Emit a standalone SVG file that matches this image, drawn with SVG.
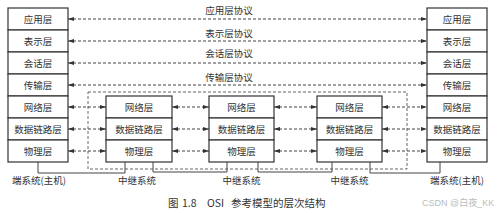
<svg xmlns="http://www.w3.org/2000/svg" width="498" height="213" viewBox="0 0 498 213">
<style>
.box{fill:#fff;stroke:#333;stroke-width:1.2}
.t{font-family:"Noto Sans CJK SC","Noto Sans",sans-serif;font-size:9.5px;fill:#333;text-anchor:middle}
.proto{stroke:#444;stroke-width:1;stroke-dasharray:3,2;fill:none}
.frame{stroke:#555;stroke-width:0.9;stroke-dasharray:3,2;fill:none}
.solid{stroke:#444;stroke-width:1;fill:none}
.cap{font-family:"Noto Sans CJK SC","Noto Sans",sans-serif;font-size:10.5px;fill:#333}
.wm{font-family:"Liberation Sans","Noto Sans CJK SC",sans-serif;font-size:9px;fill:#bbb}
</style>
<defs>
<marker id="ah" viewBox="0 0 6 4" refX="6" refY="2" markerWidth="6" markerHeight="4" markerUnits="userSpaceOnUse" orient="auto-start-reverse">
<path d="M0,0 L6,2 L0,4 Z" fill="#333"/>
</marker>
</defs>
<rect width="498" height="213" fill="#fff"/>

<g id="frame">
<rect class="frame" x="88" y="92" width="319" height="77"/>
</g>

<g id="connectors">
<line class="proto" x1="68" y1="19" x2="427" y2="19" marker-start="url(#ah)" marker-end="url(#ah)"/>
<line class="proto" x1="68" y1="41" x2="427" y2="41" marker-start="url(#ah)" marker-end="url(#ah)"/>
<line class="proto" x1="68" y1="63" x2="427" y2="63" marker-start="url(#ah)" marker-end="url(#ah)"/>
<line class="proto" x1="68" y1="85" x2="427" y2="85" marker-start="url(#ah)" marker-end="url(#ah)"/>
<line class="proto" x1="68" y1="107" x2="106" y2="107" marker-start="url(#ah)" marker-end="url(#ah)"/>
<line class="proto" x1="68" y1="129" x2="106" y2="129" marker-start="url(#ah)" marker-end="url(#ah)"/>
<line class="proto" x1="68" y1="151" x2="106" y2="151" marker-start="url(#ah)" marker-end="url(#ah)"/>
<line class="proto" x1="172" y1="107" x2="209" y2="107" marker-start="url(#ah)" marker-end="url(#ah)"/>
<line class="proto" x1="172" y1="129" x2="209" y2="129" marker-start="url(#ah)" marker-end="url(#ah)"/>
<line class="proto" x1="172" y1="151" x2="209" y2="151" marker-start="url(#ah)" marker-end="url(#ah)"/>
<line class="proto" x1="274" y1="107" x2="317" y2="107" marker-start="url(#ah)" marker-end="url(#ah)"/>
<line class="proto" x1="274" y1="129" x2="317" y2="129" marker-start="url(#ah)" marker-end="url(#ah)"/>
<line class="proto" x1="274" y1="151" x2="317" y2="151" marker-start="url(#ah)" marker-end="url(#ah)"/>
<line class="proto" x1="382" y1="107" x2="427" y2="107" marker-start="url(#ah)" marker-end="url(#ah)"/>
<line class="proto" x1="382" y1="129" x2="427" y2="129" marker-start="url(#ah)" marker-end="url(#ah)"/>
<line class="proto" x1="382" y1="151" x2="427" y2="151" marker-start="url(#ah)" marker-end="url(#ah)"/>
<polyline class="solid" points="38,162 38,173 125,173 125,162"/>
<polyline class="solid" points="153,162 153,172 227,172 227,162"/>
<polyline class="solid" points="258,162 258,172 332,172 332,162"/>
<polyline class="solid" points="370,162 370,173 440,173 440,162"/>
</g>

<g id="proto-labels">
<text class="t" x="229" y="13.5">应用层协议</text>
<text class="t" x="229" y="36.5">表示层协议</text>
<text class="t" x="229" y="56.5">会话层协议</text>
<text class="t" x="229" y="80.5">传输层协议</text>
</g>

<g id="host-left">
<rect class="box" x="8" y="8" width="60" height="22"/>
<rect class="box" x="8" y="30" width="60" height="22"/>
<rect class="box" x="8" y="52" width="60" height="22"/>
<rect class="box" x="8" y="74" width="60" height="22"/>
<rect class="box" x="8" y="96" width="60" height="22"/>
<rect class="box" x="8" y="118" width="60" height="22"/>
<rect class="box" x="8" y="140" width="60" height="22"/>
<text class="t" x="38" y="22.5">应用层</text>
<text class="t" x="38" y="44.5">表示层</text>
<text class="t" x="38" y="66.5">会话层</text>
<text class="t" x="38" y="88.5">传输层</text>
<text class="t" x="38" y="110.5">网络层</text>
<text class="t" x="38" y="132.5">数据链路层</text>
<text class="t" x="38" y="154.5">物理层</text>
<text class="t" x="39" y="184">端系统(主机)</text>
</g>

<g id="host-right">
<rect class="box" x="427" y="8" width="60" height="22"/>
<rect class="box" x="427" y="30" width="60" height="22"/>
<rect class="box" x="427" y="52" width="60" height="22"/>
<rect class="box" x="427" y="74" width="60" height="22"/>
<rect class="box" x="427" y="96" width="60" height="22"/>
<rect class="box" x="427" y="118" width="60" height="22"/>
<rect class="box" x="427" y="140" width="60" height="22"/>
<text class="t" x="457" y="22.5">应用层</text>
<text class="t" x="457" y="44.5">表示层</text>
<text class="t" x="457" y="66.5">会话层</text>
<text class="t" x="457" y="88.5">传输层</text>
<text class="t" x="457" y="110.5">网络层</text>
<text class="t" x="457" y="132.5">数据链路层</text>
<text class="t" x="457" y="154.5">物理层</text>
<text class="t" x="457" y="184">端系统(主机)</text>
</g>

<g id="relay-1">
<rect class="box" x="106" y="96" width="66" height="22"/>
<rect class="box" x="106" y="118" width="66" height="22"/>
<rect class="box" x="106" y="140" width="66" height="22"/>
<text class="t" x="139" y="110.5">网络层</text>
<text class="t" x="139" y="132.5">数据链路层</text>
<text class="t" x="139" y="154.5">物理层</text>
<text class="t" x="137" y="184">中继系统</text>
</g>

<g id="relay-2">
<rect class="box" x="209" y="96" width="65" height="22"/>
<rect class="box" x="209" y="118" width="65" height="22"/>
<rect class="box" x="209" y="140" width="65" height="22"/>
<text class="t" x="241.5" y="110.5">网络层</text>
<text class="t" x="241.5" y="132.5">数据链路层</text>
<text class="t" x="241.5" y="154.5">物理层</text>
<text class="t" x="241.5" y="184">中继系统</text>
</g>

<g id="relay-3">
<rect class="box" x="317" y="96" width="65" height="22"/>
<rect class="box" x="317" y="118" width="65" height="22"/>
<rect class="box" x="317" y="140" width="65" height="22"/>
<text class="t" x="349.5" y="110.5">网络层</text>
<text class="t" x="349.5" y="132.5">数据链路层</text>
<text class="t" x="349.5" y="154.5">物理层</text>
<text class="t" x="349.5" y="184">中继系统</text>
</g>

<g id="caption">
<text class="cap" y="207"><tspan x="168">图</tspan><tspan x="182">1.8</tspan><tspan x="207">OSI</tspan><tspan x="231">参考模型的层次结构</tspan></text>
<text class="wm" x="422" y="206">CSDN @白夜_KK</text>
</g>
</svg>
